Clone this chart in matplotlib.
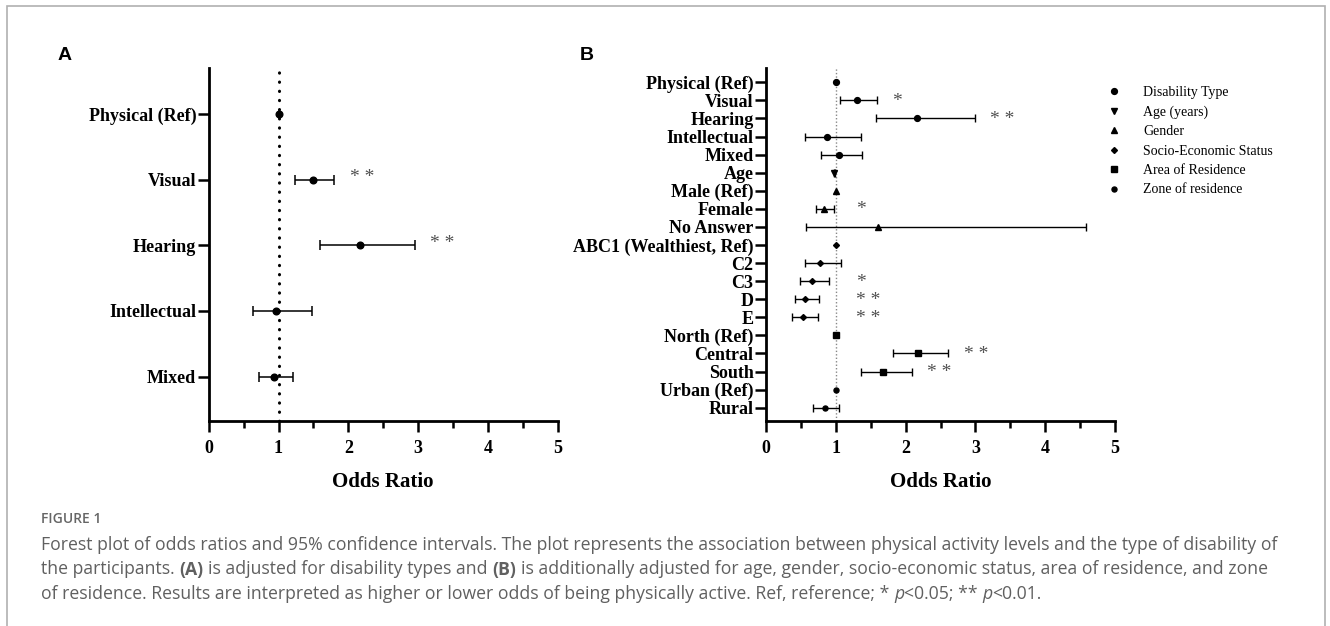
import matplotlib
matplotlib.use("Agg")
import matplotlib.pyplot as plt
from matplotlib.lines import Line2D
from matplotlib.patches import Rectangle

# ---------------- data ----------------
A_labels = ["Physical (Ref)", "Visual", "Hearing", "Intellectual", "Mixed"]
A_or = [1.00, 1.49, 2.17, 0.97, 0.94]
A_lo = [1.00, 1.23, 1.60, 0.63, 0.72]
A_hi = [1.00, 1.80, 2.95, 1.48, 1.21]
A_sig = ["", "**", "**", "", ""]

B_labels = ["Physical (Ref)", "Visual", "Hearing", "Intellectual", "Mixed",
            "Age", "Male (Ref)", "Female", "No Answer",
            "ABC1 (Wealthiest, Ref)", "C2", "C3", "D", "E",
            "North (Ref)", "Central", "South", "Urban (Ref)", "Rural"]
B_group = (["Disability Type"] * 5 + ["Age (years)"] + ["Gender"] * 3 +
           ["Socio-Economic Status"] * 5 + ["Area of Residence"] * 3 +
           ["Zone of residence"] * 2)
B_or = [1.00, 1.30, 2.17, 0.87, 1.04, 0.98, 1.00, 0.83, 1.61, 1.00, 0.78, 0.66, 0.56, 0.53, 1.00, 2.18, 1.68, 1.00, 0.84]
B_lo = [1.00, 1.06, 1.57, 0.56, 0.79, 0.97, 1.00, 0.71, 0.57, 1.00, 0.56, 0.48, 0.41, 0.37, 1.00, 1.82, 1.36, 1.00, 0.68]
B_hi = [1.00, 1.59, 2.99, 1.36, 1.37, 0.99, 1.00, 0.97, 4.59, 1.00, 1.08, 0.90, 0.76, 0.75, 1.00, 2.61, 2.09, 1.00, 1.04]
B_sig = ["", "*", "**", "", "", "", "", "*", "", "", "", "*", "**", "**", "", "**", "**", "", ""]

group_names = ["Disability Type", "Age (years)", "Gender", "Socio-Economic Status",
               "Area of Residence", "Zone of residence"]
x_ticks = [0, 1, 2, 3, 4, 5]

# ---------------- styling ----------------
W, H = 1330, 626
SERIF = "Liberation Serif"
group_marker = {"Disability Type": ("o", 4.2), "Age (years)": ("v", 4.2),
                "Gender": ("^", 4.2), "Socio-Economic Status": ("D", 3.0),
                "Area of Residence": ("s", 4.0), "Zone of residence": ("o", 3.6)}

fig = plt.figure(figsize=(W / 100, H / 100), dpi=100)
fig.patch.set_facecolor("white")


def fx(x):
    return x / W


def fy(y):
    return 1 - y / H


def style_axis(ax, labels, nrows, pad_top, pad_bot):
    for s in ["top", "right"]:
        ax.spines[s].set_visible(False)
    for s in ["left", "bottom"]:
        ax.spines[s].set_linewidth(2.0)
    ax.set_xlim(0, 5)
    ax.set_ylim(nrows - 1 + pad_bot, -pad_top)
    ax.set_xticks(x_ticks)
    ax.set_xticks([v + 0.5 for v in x_ticks[:-1]], minor=True)
    ax.set_xticklabels([str(v) for v in x_ticks], fontfamily=SERIF,
                       fontweight="bold", fontsize=13)
    ax.set_yticks(range(nrows))
    ax.set_yticklabels(labels, fontfamily=SERIF, fontweight="bold", fontsize=13)
    ax.tick_params(axis="x", which="major", length=8, width=1.8, pad=6)
    ax.tick_params(axis="x", which="minor", length=5, width=1.8)
    ax.tick_params(axis="y", which="major", length=8, width=1.8, pad=1)
    ax.set_xlabel("Odds Ratio", fontfamily=SERIF, fontweight="bold",
                  fontsize=15, labelpad=11)
    ax.patch.set_alpha(0)


STAR_COLOR = "#505050"

# ---------------- Panel A ----------------
axA = fig.add_axes([fx(208.7), fy(420.5), fx(349), 352.5 / H])
style_axis(axA, A_labels, len(A_labels), 0.70, 0.67)
axA.axvline(1, color="black", lw=2.2, linestyle=(0, (0.1, 2.9)),
            dash_capstyle="round", zorder=1)
for i in range(len(A_labels)):
    if A_hi[i] > A_lo[i]:
        axA.errorbar(A_or[i], i, xerr=[[A_or[i] - A_lo[i]], [A_hi[i] - A_or[i]]],
                     fmt="o", color="black", ms=4.8, elinewidth=1.1,
                     capsize=3.5, capthick=1.1, zorder=3)
    else:
        axA.plot(A_or[i], i, "o", color="black", ms=4.8, zorder=3)
        axA.plot([A_or[i], A_or[i]], [i - 0.04, i + 0.04], color="black", lw=1.1)
    if A_sig[i]:
        axA.text(A_hi[i] + 0.22, i - 0.03, " ".join(A_sig[i]), fontfamily=SERIF,
                 fontsize=14, color=STAR_COLOR, ha="left", va="center")

# ---------------- Panel B ----------------
axB = fig.add_axes([fx(766), fy(420.5), fx(349), 352.5 / H])
style_axis(axB, B_labels, len(B_labels), 0.79, 0.71)
axB.axvline(1, color="#888888", lw=1.0, linestyle=(0, (1, 1.5)), zorder=1)
for i in range(len(B_labels)):
    m, ms = group_marker[B_group[i]]
    if B_hi[i] > B_lo[i]:
        axB.errorbar(B_or[i], i, xerr=[[B_or[i] - B_lo[i]], [B_hi[i] - B_or[i]]],
                     fmt=m, color="black", ms=ms, elinewidth=1.0,
                     capsize=3.0, capthick=1.0, zorder=3)
    else:
        axB.plot(B_or[i], i, m, color="black", ms=ms, zorder=3)
    if B_sig[i]:
        axB.text(max(B_hi[i] + 0.22, 1.29), i + 0.05, " ".join(B_sig[i]),
                 fontfamily=SERIF, fontsize=14, color=STAR_COLOR,
                 ha="left", va="center")

handles = [Line2D([], [], marker=group_marker[g][0], ls="none", color="black",
                  ms=group_marker[g][1]) for g in group_names]
fig.legend(handles, group_names, loc="upper left",
           bbox_to_anchor=(fx(1093), fy(79)), frameon=False, borderpad=0,
           handletextpad=1.1, labelspacing=0.46, handlelength=2.0,
           prop={"family": SERIF, "size": 10})

# panel letters
fig.text(fx(65), fy(56), "A", fontfamily="Liberation Sans", fontweight="bold",
         fontsize=14, ha="center", va="center")
fig.text(fx(587), fy(56), "B", fontfamily="Liberation Sans", fontweight="bold",
         fontsize=14, ha="center", va="center")

# frame
fig.patches.append(Rectangle((fx(7), -0.05), fx(1318), fy(5.5) + 0.05,
                             transform=fig.transFigure, fill=False,
                             edgecolor="#b0b0b0", lw=1.2))

# ---------------- caption ----------------
CAP = "Open Sans"
CAP_COLOR = "#606060"
fig.text(fx(41), fy(519), "FIGURE 1", fontfamily=CAP, fontweight="semibold",
         fontsize=10, color="#666666", ha="left", va="center")

caption_lines = [
    [("Forest plot of odds ratios and 95% confidence intervals. The plot represents the association between physical activity levels and the type of disability of", "normal", "normal")],
    [("the participants.", "normal", "normal"), ("(A)", "bold", "normal"),
     ("is adjusted for disability types and", "normal", "normal"), ("(B)", "bold", "normal"),
     ("is additionally adjusted for age, gender, socio-economic status, area of residence, and zone", "normal", "normal")],
    [("of residence. Results are interpreted as higher or lower odds of being physically active. Ref, reference; *", "normal", "normal"),
     ("p", "normal", "italic"), ("<0.05; **", "normal", "normal", True), ("p", "normal", "italic"),
     ("<0.01.", "normal", "normal", True)],
]
caption_y = [545, 569.5, 594]
renderer = fig.canvas.get_renderer()

# choose caption size so that the first line spans the measured width
probe = fig.text(0, 0, caption_lines[0][0][0], fontfamily=CAP, fontsize=10)
w10 = probe.get_window_extent(renderer).width
probe.remove()
cap_size = 10 * 1233 / w10

probe1 = fig.text(0, 0, "a a", fontfamily=CAP, fontsize=cap_size)
probe2 = fig.text(0, 0, "aa", fontfamily=CAP, fontsize=cap_size)
space_w = (probe1.get_window_extent(renderer).width -
           probe2.get_window_extent(renderer).width)
probe1.remove()
probe2.remove()
for segs, yy in zip(caption_lines, caption_y):
    xpix = 41
    for k, seg in enumerate(segs):
        txt, wt, st = seg[0], seg[1], seg[2]
        glue = len(seg) > 3
        if k > 0 and not glue:
            xpix += space_w
        t = fig.text(fx(xpix), fy(yy), txt, fontfamily=CAP, fontsize=cap_size,
                     fontweight=wt, fontstyle=st, color=CAP_COLOR,
                     ha="left", va="center")
        xpix += t.get_window_extent(renderer).width

fig.savefig("out.png", dpi=100, facecolor="white")
